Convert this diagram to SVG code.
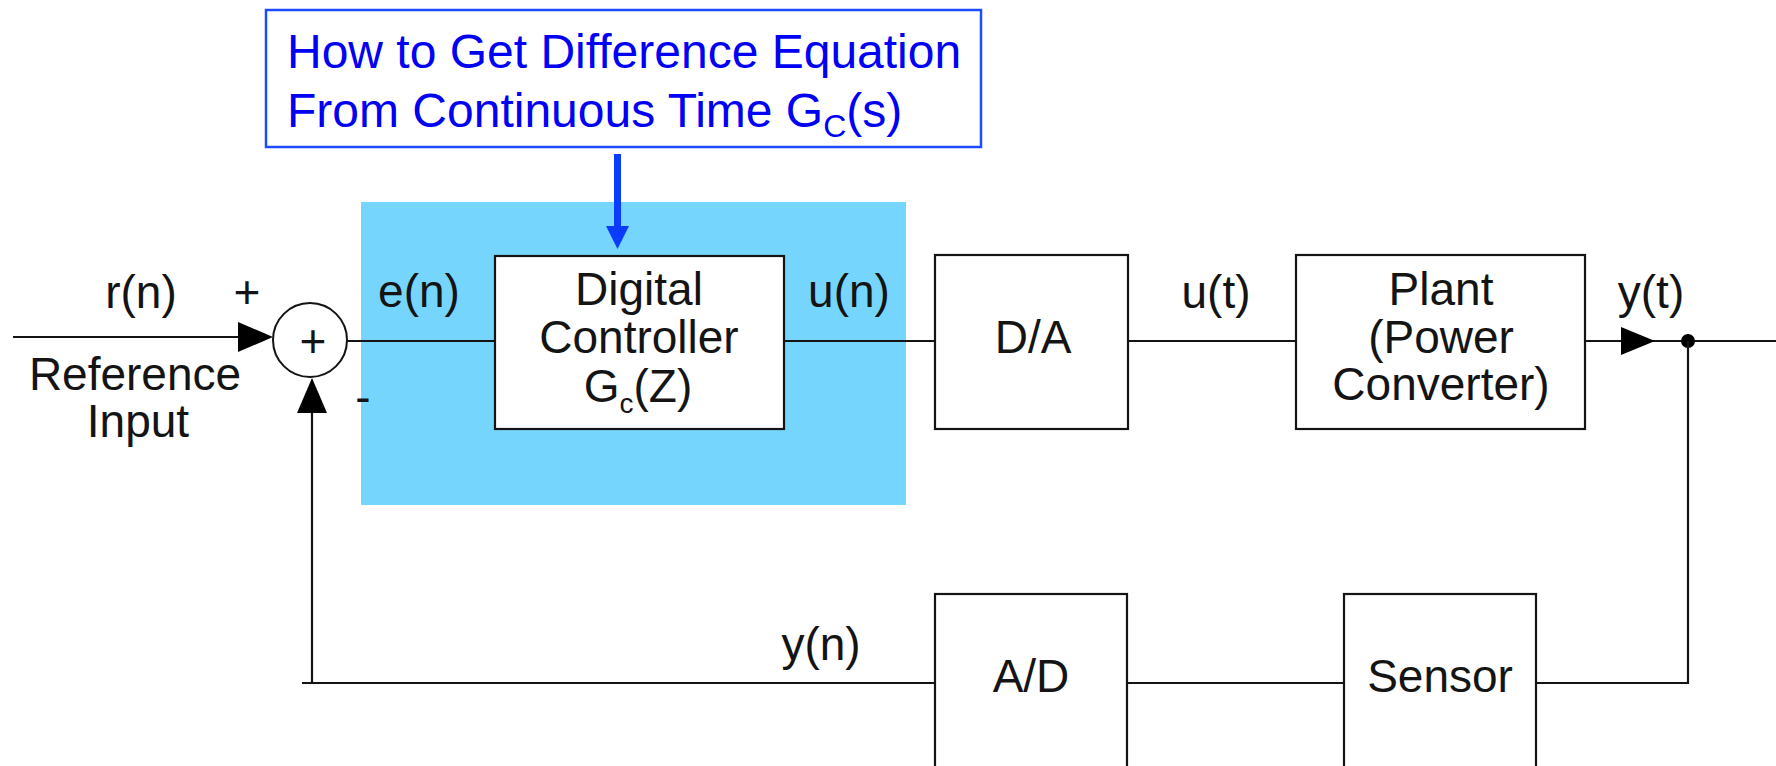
<svg xmlns="http://www.w3.org/2000/svg" width="1776" height="766" viewBox="0 0 1776 766">
<style>
.t{font-family:"Liberation Sans",Arial,Helvetica,sans-serif;font-size:46px;fill:#141414;text-anchor:middle}
.a{font-family:"Liberation Sans",Arial,Helvetica,sans-serif;font-size:48px;fill:#0000f5}
.box{fill:#fff;stroke:#141414;stroke-width:2.2}
.ln{fill:none;stroke:#141414;stroke-width:2.2}
.ah{fill:#000}
</style>
<rect width="1776" height="766" fill="#fff"/>
<rect id="highlight" x="361" y="202" width="545" height="303" fill="#76d5fd"/>
<g id="connectors">
<line class="ln" x1="13" y1="337" x2="245" y2="337"/>
<polygon class="ah" points="238,322 273,337 238,352"/>
<line class="ln" x1="347" y1="341" x2="495" y2="341"/>
<line class="ln" x1="784" y1="341" x2="935" y2="341"/>
<line class="ln" x1="1128" y1="341" x2="1296" y2="341"/>
<line class="ln" x1="1585" y1="341" x2="1776" y2="341"/>
<polygon class="ah" points="1621,327 1655,341 1621,355"/>
<circle cx="1688" cy="341" r="7" fill="#000"/>
<polyline class="ln" points="1536,683 1688,683 1688,341"/>
<line class="ln" x1="1127" y1="683" x2="1344" y2="683"/>
<polyline class="ln" points="935,683 302,683"/>
<line class="ln" x1="312" y1="683" x2="312" y2="405"/>
<polygon class="ah" points="297,413 312,378 327,413"/>
<g id="blue-arrow">
<rect x="614" y="154" width="7" height="76" fill="#0a3cff"/>
<polygon points="606,226 629,226 617.5,249" fill="#0a3cff"/>
</g>
</g>
<g id="annotation">
<rect x="266" y="10" width="715" height="137" fill="#fff" stroke="#1e4bff" stroke-width="2.5"/>
<text class="a" x="287" y="68">How to Get Difference Equation</text>
<text class="a" x="287" y="127">From Continuous Time G<tspan font-size="32" dy="10">C</tspan><tspan dy="-10">(s)</tspan></text>
</g>
<g id="sum">
<circle cx="310" cy="340" r="37" fill="#fff" stroke="#141414" stroke-width="2"/>
<text class="t" x="313" y="357">+</text>
</g>
<g id="labels-input">
<text class="t" x="141" y="308">r(n)</text>
<text class="t" x="247" y="308">+</text>
<text class="t" x="363" y="413">-</text>
<text class="t" x="135" y="390">Reference</text>
<text class="t" x="138" y="437">Input</text>
<text class="t" x="419" y="307">e(n)</text>
<text class="t" x="849" y="307">u(n)</text>
<text class="t" x="1216" y="308">u(t)</text>
<text class="t" x="1651" y="308">y(t)</text>
<text class="t" x="821" y="660">y(n)</text>
</g>
<g id="digital-controller">
<rect class="box" x="495" y="256" width="289" height="173"/>
<text class="t" x="639" y="305">Digital</text>
<text class="t" x="639" y="353">Controller</text>
<text class="t" x="638" y="402">G<tspan font-size="28" dy="11">c</tspan><tspan dy="-11">(Z)</tspan></text>
</g>
<g id="da">
<rect class="box" x="935" y="255" width="193" height="174"/>
<text class="t" x="1033" y="353">D/A</text>
</g>
<g id="plant">
<rect class="box" x="1296" y="255" width="289" height="174"/>
<text class="t" x="1441" y="305">Plant</text>
<text class="t" x="1441" y="353">(Power</text>
<text class="t" x="1441" y="400">Converter)</text>
</g>
<g id="ad">
<rect class="box" x="935" y="594" width="192" height="200"/>
<text class="t" x="1031" y="692">A/D</text>
</g>
<g id="sensor">
<rect class="box" x="1344" y="594" width="192" height="200"/>
<text class="t" x="1440" y="692">Sensor</text>
</g>
</svg>
